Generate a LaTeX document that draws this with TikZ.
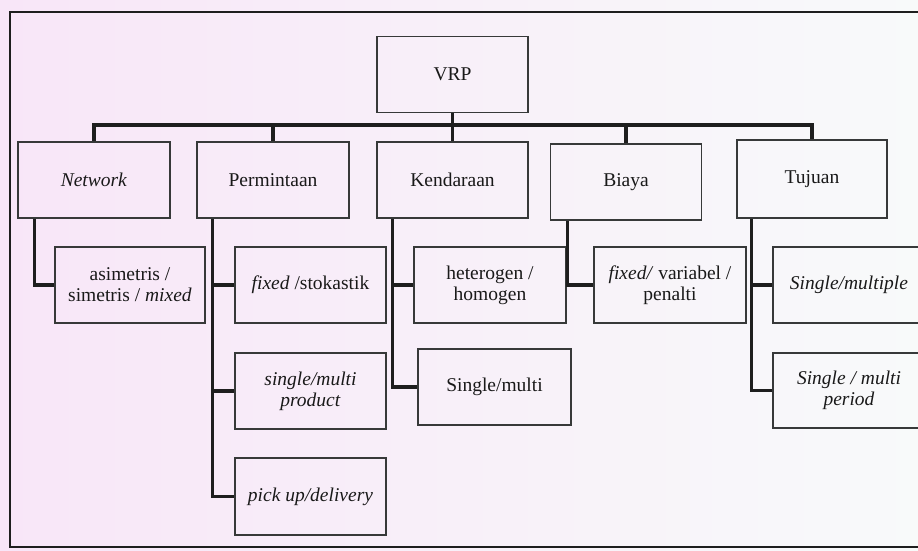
\documentclass[tikz,border=0pt]{standalone}
\usepackage{fontspec}
\setmainfont{Liberation Serif}
\usetikzlibrary{calc}
\definecolor{linec}{RGB}{30,30,30}
\definecolor{boxc}{RGB}{55,57,57}
\definecolor{bgleft}{RGB}{248,230,248}
\definecolor{bgmid}{RGB}{251,248,251}
\definecolor{bgright}{RGB}{248,250,250}
\begin{document}
\begin{tikzpicture}[x=1pt,y=-1pt,
  box/.style={draw=boxc, line width=1.8pt, align=center, inner sep=2pt,
    font=\fontsize{19.5}{21}\selectfont, text=black!90},
  conn/.style={draw=linec, line width=3.2pt},
  frame/.style={draw=linec, line width=1.8pt}]
\useasboundingbox (0,0) rectangle (918,550);
\clip (0,0) rectangle (918,550);
\shade[left color=bgleft, middle color=bgmid, right color=bgright] (0,0) rectangle (918,550);
\draw[frame] (10,12) rectangle (930,547);
% level 0
\node[box, minimum width=151pt, minimum height=76pt] (vrp) at (452.5,74.5) {VRP};
% level 1
\node[box, minimum width=152pt, minimum height=76pt] (net) at (94,180) {\textit{Network}};
\node[box, minimum width=152pt, minimum height=76pt] (perm) at (273,180) {Permintaan};
\node[box, minimum width=151pt, minimum height=76pt] (kend) at (452.5,180) {Kendaraan};
\node[box, minimum width=151pt, minimum height=76pt] (biaya) at (626,182) {Biaya};
\node[box, minimum width=150pt, minimum height=78pt] (tuj) at (812,179) {Tujuan};
% level 2
\node[box, minimum width=150pt, minimum height=76pt] (asim) at (130,285) {asimetris /\\simetris / \textit{mixed}};
\node[box, minimum width=151pt, minimum height=76pt] (fix) at (310.5,285) {\textit{fixed} /stokastik};
\node[box, minimum width=151pt, minimum height=76pt] (sprod) at (310.5,391) {\textit{single/multi}\\\textit{product}};
\node[box, minimum width=151pt, minimum height=77pt] (pick) at (310.5,496.5) {\textit{pick up/delivery}};
\node[box, minimum width=152pt, minimum height=76pt] (het) at (490,285) {heterogen /\\homogen};
\node[box, minimum width=153pt, minimum height=76pt] (smulti) at (494.5,387) {Single/multi};
\node[box, minimum width=152pt, minimum height=76pt] (fvp) at (670,285) {\textit{fixed/} variabel /\\penalti};
\node[box, minimum width=152pt, minimum height=76pt] (smult) at (849,285) {\textit{Single/multiple}};
\node[box, minimum width=152pt, minimum height=75pt] (speriod) at (849,390.5) {\textit{Single / multi}\\\textit{period}};
% bus
\coordinate (busy) at (0,125);
\draw[conn] (vrp.south) -- (vrp.south |- busy);
\draw[conn] (net.north) -- (net.north |- busy) -- (tuj.north |- busy) -- (tuj.north);
\draw[conn] (perm.north) -- (perm.north |- busy);
\draw[conn] (kend.north) -- (kend.north |- busy);
\draw[conn] (biaya.north) -- (biaya.north |- busy);
% children connectors
\coordinate (nv) at ($(net.south west)+(17,0)$);
\draw[conn] (nv) |- (asim.west);
\coordinate (pv) at ($(perm.south west)+(16,0)$);
\draw[conn] (pv) |- (pick.west);
\draw[conn] (pv |- fix.west) -- (fix.west);
\draw[conn] (pv |- sprod.west) -- (sprod.west);
\coordinate (kv) at ($(kend.south west)+(16,0)$);
\draw[conn] (kv) |- (smulti.west);
\draw[conn] (kv |- het.west) -- (het.west);
\coordinate (bv) at ($(biaya.south west)+(17.5,0)$);
\draw[conn] (bv) |- (fvp.west);
\coordinate (tv) at ($(tuj.south west)+(15,0)$);
\draw[conn] (tv) |- (speriod.west);
\draw[conn] (tv |- smult.west) -- (smult.west);
\end{tikzpicture}
\end{document}
